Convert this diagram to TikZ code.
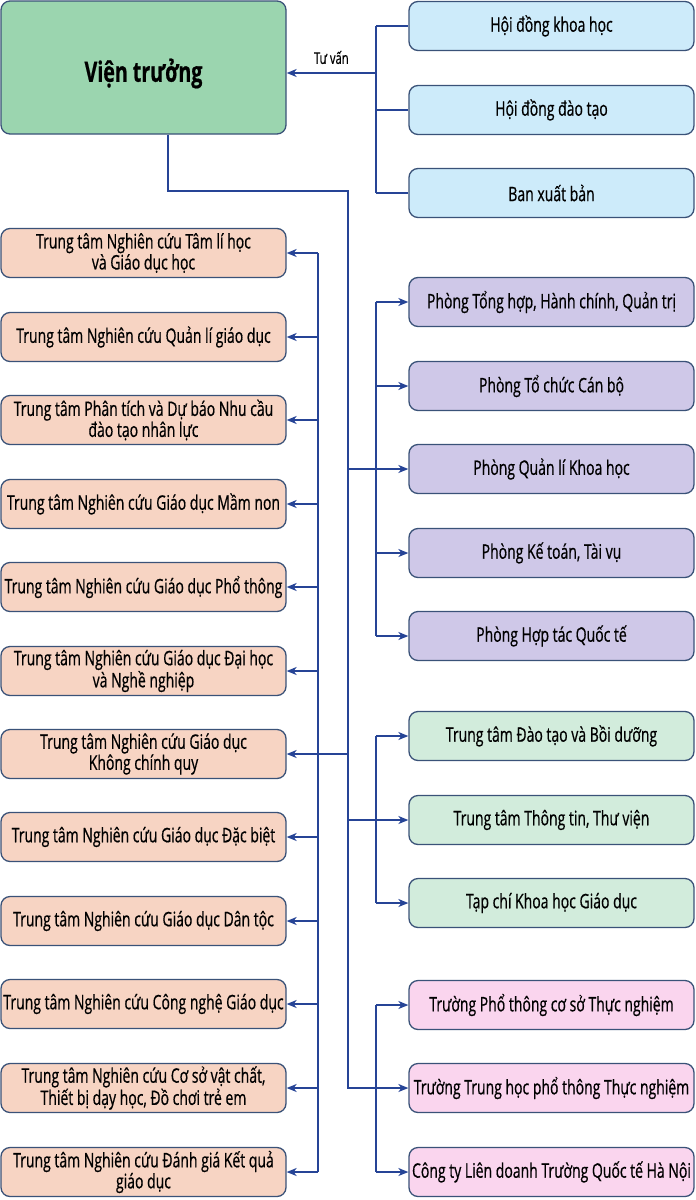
\documentclass[tikz,border=0pt]{standalone}
\usepackage{fontspec}
\setmainfont[FakeStretch=0.7,FakeBold=0.6]{Open Sans}
\usetikzlibrary{arrows.meta}
\definecolor{bordercol}{RGB}{58,82,120}
\definecolor{linecol}{RGB}{38,68,150}
\definecolor{vtfill}{RGB}{155,213,175}
\definecolor{bluefill}{RGB}{205,235,250}
\definecolor{purplefill}{RGB}{207,200,232}
\definecolor{greenfill}{RGB}{210,236,220}
\definecolor{orangefill}{RGB}{247,212,195}
\definecolor{pinkfill}{RGB}{250,213,238}
\begin{document}
\begin{tikzpicture}[x=1pt,y=-1pt,
  box/.style={draw=bordercol, line width=1.3pt, rounded corners=9pt,
    minimum width=285pt, minimum height=49pt, inner sep=1pt, align=center,
    font=\fontsize{20}{21}\selectfont, text=black},
  obox/.style={box, fill=orangefill},
  bbox/.style={box, fill=bluefill},
  pbox/.style={box, fill=purplefill},
  gbox/.style={box, fill=greenfill},
  kbox/.style={box, fill=pinkfill},
  ln/.style={draw=linecol, line width=1.3pt},
  arr/.style={ln, -{Stealth[length=10pt,width=8pt,inset=3pt]}}]
\useasboundingbox (0,0) rectangle (696,1200);
% top node
\node[box, fill=vtfill, minimum width=285pt, minimum height=133pt,
  font=\fontsize{28}{30}\selectfont\bfseries] (vt) at (143.5,67.5) {\raisebox{-6pt}[\height][\depth]{Viện trưởng}};
% advisory
\node[bbox] (h1) at (551.5,26) {Hội đồng khoa học};
\node[bbox] (h2) at (551.5,110) {Hội đồng đào tạo};
\node[bbox] (h3) at (551.5,193) {Ban xuất bản};
% left column
\node[obox] (o1) at (143.5,253) {Trung tâm Nghiên cứu Tâm lí học\\và Giáo dục học};
\node[obox] (o2) at (143.5,337) {Trung tâm Nghiên cứu Quản lí giáo dục};
\node[obox] (o3) at (143.5,420) {Trung tâm Phân tích và Dự báo Nhu cầu\\đào tạo nhân lực};
\node[obox] (o4) at (143.5,504) {Trung tâm Nghiên cứu Giáo dục Mầm non};
\node[obox] (o5) at (143.5,587) {Trung tâm Nghiên cứu Giáo dục Phổ thông};
\node[obox] (o6) at (143.5,671) {Trung tâm Nghiên cứu Giáo dục Đại học\\và Nghề nghiệp};
\node[obox] (o7) at (143.5,754) {Trung tâm Nghiên cứu Giáo dục\\Không chính quy};
\node[obox] (o8) at (143.5,837) {Trung tâm Nghiên cứu Giáo dục Đặc biệt};
\node[obox] (o9) at (143.5,921) {Trung tâm Nghiên cứu Giáo dục Dân tộc};
\node[obox] (o10) at (143.5,1004) {Trung tâm Nghiên cứu Công nghệ Giáo dục};
\node[obox] (o11) at (143.5,1088) {Trung tâm Nghiên cứu Cơ sở vật chất,\\Thiết bị dạy học, Đồ chơi trẻ em};
\node[obox] (o12) at (143.5,1172) {Trung tâm Nghiên cứu Đánh giá Kết quả\\giáo dục};
% right column
\node[pbox] (p1) at (551.5,302) {Phòng Tổng hợp, Hành chính, Quản trị};
\node[pbox] (p2) at (551.5,386) {Phòng Tổ chức Cán bộ};
\node[pbox] (p3) at (551.5,469) {Phòng Quản lí Khoa học};
\node[pbox] (p4) at (551.5,553) {Phòng Kế toán, Tài vụ};
\node[pbox] (p5) at (551.5,636) {Phòng Hợp tác Quốc tế};
\node[gbox] (g1) at (551.5,736) {Trung tâm Đào tạo và Bồi dưỡng};
\node[gbox] (g2) at (551.5,820) {Trung tâm Thông tin, Thư viện};
\node[gbox] (g3) at (551.5,903) {Tạp chí Khoa học Giáo dục};
\node[kbox] (k1) at (551.5,1005) {Trường Phổ thông cơ sở Thực nghiệm};
\node[kbox] (k2) at (551.5,1088) {Trường Trung học phổ thông Thực nghiệm};
\node[kbox] (k3) at (551.5,1172) {Công ty Liên doanh Trường Quốc tế Hà Nội};
% bus coordinates
\coordinate (ax) at (376,0);
\coordinate (tk) at (348,191);
\coordinate (obx) at (318,0);
% advisory connectors
\draw[ln] (h1.west -| ax) -- (h3.west -| ax);
\foreach \h in {h1,h2,h3} \draw[ln] (\h.west -| ax) -- (\h.west);
\draw[arr] ([yshift=-5.5pt]vt.east -| ax) -- ([yshift=-5.5pt]vt.east)
  node[midway, above=5pt, font=\fontsize{16}{17}\selectfont, text=black] (tv) {Tư vấn};
% trunk
\draw[arr] ([xshift=24.5pt]vt.south) |- (tk) -- (tk |- k2.west) -- (k2.west);
% orange
\draw[ln] (o1.east -| obx) -- (o12.east -| obx);
\foreach \o in {o1,o2,o3,o4,o5,o6,o8,o9,o10,o11,o12} \draw[arr] (\o.east -| obx) -- (\o.east);
\draw[arr] (o7.east -| tk) -- (o7.east);
% purple
\draw[ln] (p1.west -| ax) -- (p5.west -| ax);
\foreach \p in {p1,p2,p4,p5} \draw[arr] (\p.west -| ax) -- (\p.west);
\draw[arr] (p3.west -| tk) -- (p3.west);
% green
\draw[ln] (g1.west -| ax) -- (g3.west -| ax);
\foreach \g in {g1,g3} \draw[arr] (\g.west -| ax) -- (\g.west);
\draw[arr] (g2.west -| tk) -- (g2.west);
% pink
\draw[ln] (k1.west -| ax) -- (k3.west -| ax);
\foreach \k in {k1,k3} \draw[arr] (\k.west -| ax) -- (\k.west);
\end{tikzpicture}
\end{document}
